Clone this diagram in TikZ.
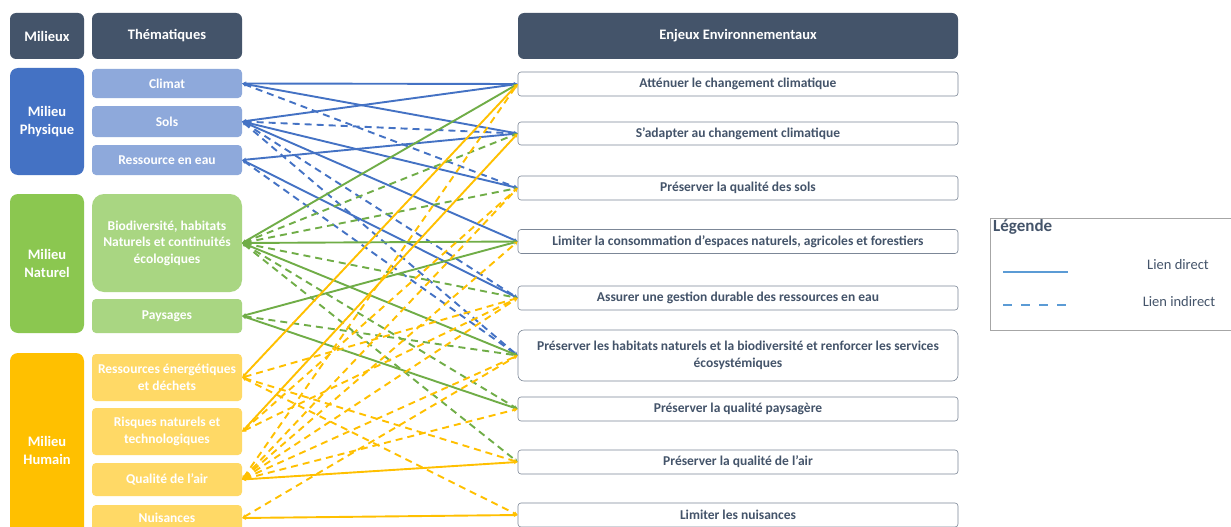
\documentclass[tikz,border=0pt]{standalone}
\usepackage{fontspec}
\setmainfont{Carlito}
\usetikzlibrary{arrows.meta}

\definecolor{ardoise}{RGB}{68,84,106}
\definecolor{physique}{RGB}{68,114,196}
\definecolor{physclair}{RGB}{142,169,219}
\definecolor{naturel}{RGB}{139,199,80}
\definecolor{natclair}{RGB}{169,214,130}
\definecolor{humain}{RGB}{255,192,0}
\definecolor{humclair}{RGB}{255,217,102}
\definecolor{lbleu}{RGB}{68,114,196}
\definecolor{lvert}{RGB}{112,173,71}
\definecolor{ljaune}{RGB}{255,192,0}
\definecolor{legbleu}{RGB}{91,155,213}

\tikzset{
  entete/.style={fill=ardoise, text=white, rounded corners=6pt, font=\bfseries\fontsize{14.5}{16}\selectfont, minimum height=46pt, inner sep=0pt},
  milieu/.style={rounded corners=8pt, text=white, font=\bfseries\fontsize{14.5}{18}\selectfont, minimum width=74pt, align=center, inner sep=0pt},
  thema/.style={rounded corners=4pt, text=white, font=\bfseries\fontsize{13.5}{16.5}\selectfont, minimum width=150pt, align=center, inner sep=0pt},
  enjeu/.style={draw=ardoise!70, fill=white, rounded corners=3pt, text=ardoise, font=\bfseries\fontsize{13.5}{17}\selectfont, minimum width=440pt, minimum height=24pt, align=center, inner sep=0pt, line width=0.6pt},
  lien/.style={line width=1.9pt, {Stealth[length=4pt,width=4pt]}-{Stealth[length=4pt,width=4pt]}},
  indirect/.style={lien, dash pattern=on 7pt off 5pt},
}

\begin{document}
\begin{tikzpicture}[x=1pt, y=-1pt]
    % Page frame
    \useasboundingbox (0,0) rectangle (1231,527);
    \clip (0,0) rectangle (1231,527);
    \fill[white] (0,0) rectangle (1231,527);
    % Column headers
    \node[entete, minimum width=74pt] (milieux) at (47,36) {Milieux};
    \node[entete, minimum width=150pt] (thematiques) at (167,36) {Thématiques};
    \node[entete, minimum width=440pt] (enjeux) at (738,36) {Enjeux Environnementaux};
    % Milieux
    \node[milieu, fill=physique, minimum height=107pt] (physique) at (47,121.5) {Milieu\\Physique};
    \node[milieu, fill=naturel, minimum height=139pt] (naturel) at (47,263.5) {Milieu\\Naturel};
    \node[milieu, fill=humain, minimum height=194pt] (humain) at (47,450) {Milieu\\Humain};
    % Thematiques
    \node[thema, fill=physclair, minimum height=29pt] (climat) at (167,83.5) {Climat};
    \node[thema, fill=physclair, minimum height=31pt] (sols) at (167,121.5) {Sols};
    \node[thema, fill=physclair, minimum height=30pt] (eau) at (167,160) {Ressource en eau};
    \node[thema, fill=natclair, minimum height=98pt, rounded corners=12pt] (biodiv) at (167,243) {Biodiversité, habitats\\Naturels et continuités\\écologiques};
    \node[thema, fill=natclair, minimum height=34pt] (paysages) at (167,316) {Paysages};
    \node[thema, fill=humclair, minimum height=47pt] (energie) at (167,377.5) {Ressources énergétiques\\et déchets};
    \node[thema, fill=humclair, minimum height=47pt] (risques) at (167,431.5) {Risques naturels et\\technologiques};
    \node[thema, fill=humclair, minimum height=33pt] (air) at (167,479.5) {Qualité de l'air};
    \node[thema, fill=humclair, minimum height=26pt] (nuisances) at (167,518) {Nuisances};
    % Enjeux
    \node[enjeu] (e1) at (738,84) {Atténuer le changement climatique};
    \node[enjeu, minimum height=23pt] (e2) at (738,133.5) {S’adapter au changement climatique};
    \node[enjeu] (e3) at (738,188) {Préserver la qualité des sols};
    \node[enjeu] (e4) at (738,241.5) {Limiter la consommation d'espaces naturels, agricoles et forestiers};
    \node[enjeu] (e5) at (738,298) {Assurer une gestion durable des ressources en eau};
    \node[enjeu, minimum height=51pt, rounded corners=6pt] (e6) at (738,355.5) {Préserver les habitats naturels et la biodiversité et renforcer les services\\écosystémiques};
    \node[enjeu] (e7) at (738,409) {Préserver la qualité paysagère};
    \node[enjeu] (e8) at (738,462) {Préserver la qualité de l'air};
    \node[enjeu] (e9) at (738,515) {Limiter les nuisances};
    % Milieu physique links
    \foreach \a/\b in {climat/e1, climat/e2, sols/e1, sols/e3, sols/e4, eau/e2, eau/e5}
        \draw[lien, lbleu] (\a.east) -- (\b.west);
    \foreach \a/\b in {climat/e3, sols/e2, sols/e5, sols/e6, eau/e6}
        \draw[indirect, lbleu] (\a.east) -- (\b.west);
    % Milieu naturel links
    \foreach \a/\b in {biodiv/e1, biodiv/e4, biodiv/e6, paysages/e4, paysages/e7}
        \draw[lien, lvert] (\a.east) -- (\b.west);
    \foreach \a/\b in {biodiv/e2, biodiv/e3, biodiv/e5, biodiv/e7, biodiv/e8, paysages/e6}
        \draw[indirect, lvert] (\a.east) -- (\b.west);
    % Milieu humain links
    \foreach \a/\b in {energie/e1, risques/e2, air/e8, nuisances/e9}
        \draw[lien, ljaune] (\a.east) -- (\b.west);
    \foreach \a/\b in {energie/e5, energie/e8, energie/e9, risques/e3, risques/e5, air/e1, air/e3, air/e4, air/e5, air/e6, air/e7, nuisances/e6}
        \draw[indirect, ljaune] (\a.east) -- (\b.west);
    % Legend
    \node[draw=gray!70, line width=0.8pt, minimum width=250pt, minimum height=112pt, anchor=north west] (legende) at (990,218) {};
    \node[anchor=north west, inner sep=2pt, text=ardoise, font=\bfseries\fontsize{17}{19}\selectfont] (legtitre) at (991,217) {Légende};
    \coordinate (d1) at (1003,272);
    \coordinate (d2) at (1068,272);
    \coordinate (i1) at (1003,305);
    \coordinate (i2) at (1068,305);
    \draw[legbleu, line width=1.8pt] (d1) -- (d2);
    \draw[legbleu, line width=1.8pt, dash pattern=on 9pt off 9pt] (i1) -- (i2);
    \node[text=ardoise, font=\fontsize{14.5}{16}\selectfont] (direct) at (1178,265) {Lien direct};
    \node[text=ardoise, font=\fontsize{14.5}{16}\selectfont] (indir) at (1179,302) {Lien indirect};
\end{tikzpicture}
\end{document}
